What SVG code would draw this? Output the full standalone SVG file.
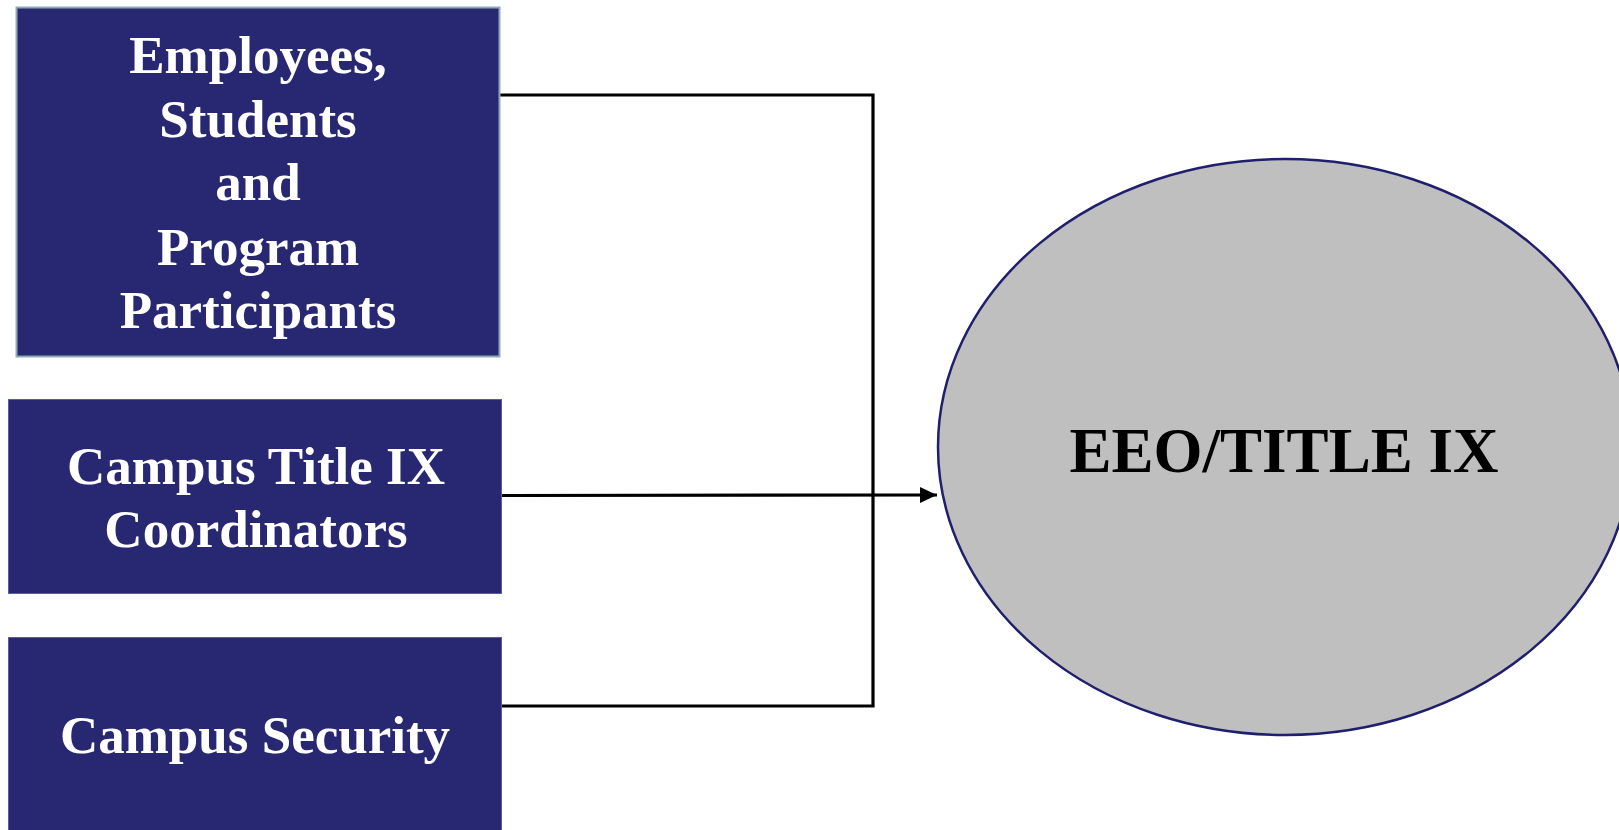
<svg xmlns="http://www.w3.org/2000/svg" width="1619" height="830" viewBox="0 0 1619 830">
<defs>
<style>
.box{fill:#282872;}
.b1{stroke:#8fa9b1;stroke-width:2;}
.b2{stroke:#5c5ca6;stroke-width:1;}
.lbl{font-family:"Liberation Serif","Times New Roman",serif;font-weight:bold;font-size:53px;fill:#ffffff;text-anchor:middle;}
.main{font-family:"Liberation Serif","Times New Roman",serif;font-weight:bold;font-size:63px;fill:#000000;text-anchor:middle;}
.conn{stroke:#000000;stroke-width:3.2;fill:none;}
</style>
<marker id="arrow" markerUnits="userSpaceOnUse" markerWidth="17" markerHeight="16" refX="17" refY="8" orient="auto">
<path d="M0,0 L17,8 L0,16 Z" fill="#000000"/>
</marker>
</defs>
<rect width="1619" height="830" fill="#ffffff"/>
<g id="connectors">
<path class="conn" d="M493,95 H873 V706 H493"/>
<line class="conn" x1="502" y1="495.5" x2="937" y2="495" marker-end="url(#arrow)"/>
</g>
<g id="node-employees">
<rect class="box b1" x="16.5" y="7.5" width="483" height="349"/>
<text class="lbl" x="258" y="73">Employees,</text>
<text class="lbl" x="258" y="137">Students</text>
<text class="lbl" x="258" y="200">and</text>
<text class="lbl" x="258" y="265">Program</text>
<text class="lbl" x="258" y="328">Participants</text>
</g>
<g id="node-coordinators">
<rect class="box b2" x="8.5" y="399.5" width="493" height="194"/>
<text class="lbl" x="256" y="484">Campus Title IX</text>
<text class="lbl" x="256" y="547">Coordinators</text>
</g>
<g id="node-security">
<rect class="box b2" x="8.5" y="637.5" width="493" height="200"/>
<text class="lbl" x="255" y="753">Campus Security</text>
</g>
<g id="node-eeo">
<ellipse cx="1285" cy="447" rx="347" ry="288" fill="#bfbfbf" stroke="#1f1f6e" stroke-width="2.5"/>
<text class="main" x="1284" y="472">EEO/TITLE IX</text>
</g>
</svg>
